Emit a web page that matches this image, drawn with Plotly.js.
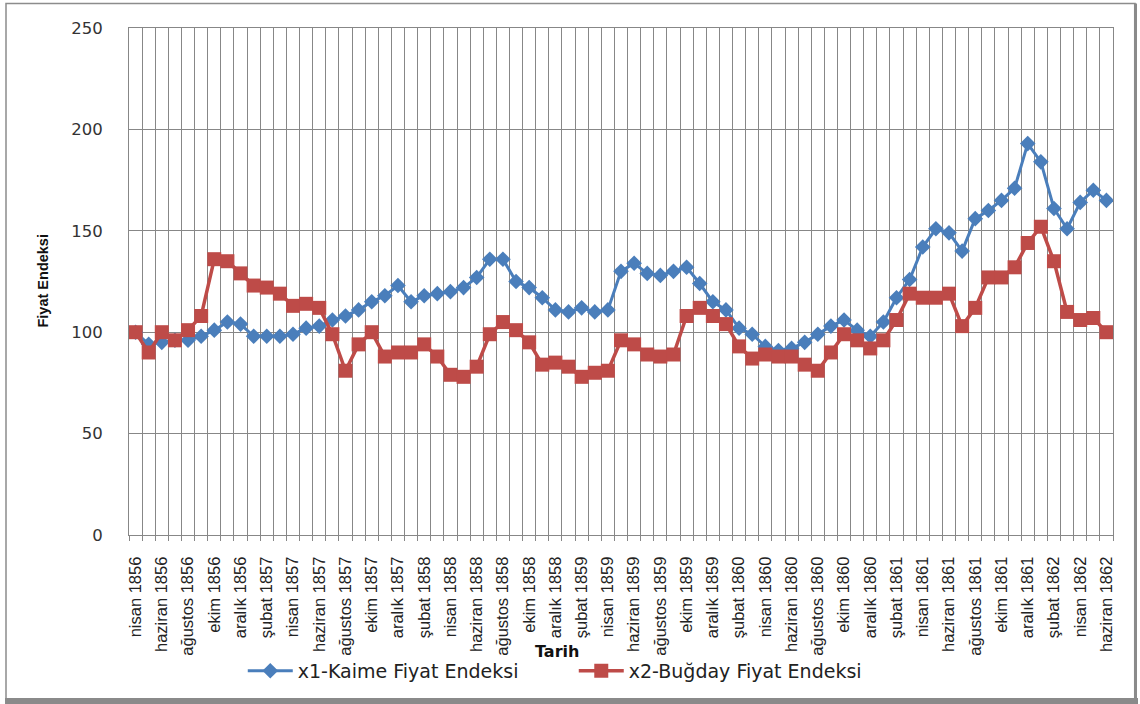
<!DOCTYPE html>
<html>
<head>
<meta charset="utf-8">
<script src="https://cdn.plot.ly/plotly-3.0.1.min.js"></script>
<style>
  html, body { margin: 0; padding: 0; background: #ffffff; }
  #chart { width: 1140px; height: 704px; }
</style>
</head>
<body>
<div id="chart"></div>
<script>
// Months (categories), April 1856 – June 1862
const categories = [
  "nisan 1856","mayıs 1856","haziran 1856","temmuz 1856","ağustos 1856","eylül 1856","ekim 1856","kasım 1856","aralık 1856",
  "ocak 1857","şubat 1857","mart 1857","nisan 1857","mayıs 1857","haziran 1857","temmuz 1857","ağustos 1857","eylül 1857","ekim 1857","kasım 1857","aralık 1857",
  "ocak 1858","şubat 1858","mart 1858","nisan 1858","mayıs 1858","haziran 1858","temmuz 1858","ağustos 1858","eylül 1858","ekim 1858","kasım 1858","aralık 1858",
  "ocak 1859","şubat 1859","mart 1859","nisan 1859","mayıs 1859","haziran 1859","temmuz 1859","ağustos 1859","eylül 1859","ekim 1859","kasım 1859","aralık 1859",
  "ocak 1860","şubat 1860","mart 1860","nisan 1860","mayıs 1860","haziran 1860","temmuz 1860","ağustos 1860","eylül 1860","ekim 1860","kasım 1860","aralık 1860",
  "ocak 1861","şubat 1861","mart 1861","nisan 1861","mayıs 1861","haziran 1861","temmuz 1861","ağustos 1861","eylül 1861","ekim 1861","kasım 1861","aralık 1861",
  "ocak 1862","şubat 1862","mart 1862","nisan 1862","mayıs 1862","haziran 1862"
];

// x1 - Kaime price index
const kaime = [
  100, 94, 95, 96, 96, 98, 101, 105, 104,
  98, 98, 98, 99, 102, 103, 106, 108, 111, 115, 118, 123,
  115, 118, 119, 120, 122, 127, 136, 136, 125, 122, 117, 111,
  110, 112, 110, 111, 130, 134, 129, 128, 130, 132, 124, 115,
  111, 102, 99, 93, 91, 92, 95, 99, 103, 106, 101, 98,
  105, 117, 126, 142, 151, 149, 140, 156, 160, 165, 171, 193,
  184, 161, 151, 164, 170, 165
];

// x2 - Wheat price index
const bugday = [
  100, 90, 100, 96, 101, 108, 136, 135, 129,
  123, 122, 119, 113, 114, 112, 99, 81, 94, 100, 88, 90,
  90, 94, 88, 79, 78, 83, 99, 105, 101, 95, 84, 85,
  83, 78, 80, 81, 96, 94, 89, 88, 89, 108, 112, 108,
  104, 93, 87, 89, 88, 88, 84, 81, 90, 99, 96, 92,
  96, 106, 119, 117, 117, 119, 103, 112, 127, 127, 132, 144,
  152, 135, 110, 106, 107, 100
];

const seriesNames = ["x1-Kaime Fiyat Endeksi", "x2-Buğday Fiyat Endeksi"];
const yTicks = [0, 50, 100, 150, 200, 250];

const xIdx = categories.map((_, i) => i);
const tickIdx = xIdx.filter(i => i % 2 === 0);
const tickTxt = tickIdx.map(i => categories[i]);

const traces = [
  {
    x: xIdx, y: kaime, name: seriesNames[0], type: 'scatter', mode: 'lines+markers',
    line: { color: '#4a7ebb', width: 3 },
    marker: { symbol: 'diamond', size: 12, color: '#4a7ebb' }
  },
  {
    x: xIdx, y: bugday, name: seriesNames[1], type: 'scatter', mode: 'lines+markers',
    line: { color: '#be4b48', width: 3.5 },
    marker: { symbol: 'square', size: 14, color: '#be4b48' }
  }
];

const gridCol = '#878787';
const layout = {
  width: 1140, height: 704,
  margin: { l: 129, r: 27, t: 28, b: 169 },
  paper_bgcolor: '#ffffff', plot_bgcolor: '#ffffff',
  showlegend: true,
  xaxis: {
    type: 'linear', range: [-0.5, categories.length - 0.5],
    tickmode: 'array', tickvals: tickIdx, ticktext: tickTxt,
    tickangle: -90, ticks: 'outside', ticklen: 14, tickcolor: 'rgba(0,0,0,0)',
    showgrid: false, zeroline: false,
    showline: true, linecolor: gridCol, linewidth: 1, mirror: true,
    tickfont: { family: 'Liberation Sans, Arial, sans-serif', size: 16.5, color: '#222' },
    minor: { tick0: -0.5, dtick: 1, showgrid: true, gridcolor: gridCol, gridwidth: 1, ticks: 'outside', ticklen: 5, tickcolor: gridCol },
    fixedrange: true
  },
  yaxis: {
    range: [0, 250], tickmode: 'array', tickvals: yTicks,
    showgrid: true, gridcolor: gridCol, gridwidth: 1, zeroline: false,
    showline: true, linecolor: gridCol, linewidth: 1, mirror: true,
    ticks: 'outside', ticklen: 22, tickcolor: 'rgba(0,0,0,0)',
    tickfont: { family: 'DejaVu Sans, sans-serif', size: 16.5, color: '#333' },
    fixedrange: true
  },
  legend: {
    orientation: 'h', x: 0.452, xanchor: 'center', y: -0.268, yanchor: 'middle',
    font: { family: 'DejaVu Sans, sans-serif', size: 19, color: '#222' },
    itemwidth: 45, entrywidth: 271, bgcolor: 'rgba(0,0,0,0)'
  },
  annotations: [
    { text: '<b>Tarih</b>', xref: 'paper', yref: 'paper', x: 0.435, y: -0.229,
      xanchor: 'center', yanchor: 'middle', showarrow: false,
      font: { family: 'DejaVu Sans, sans-serif', size: 16, color: '#111' } },
    { text: '<b>Fiyat Endeksi</b>', xref: 'paper', yref: 'paper', x: -0.0884, y: 0.5,
      xanchor: 'center', yanchor: 'middle', textangle: -90, showarrow: false,
      font: { family: 'Liberation Sans, Arial, sans-serif', size: 14.5, color: '#111' } }
  ],
  shapes: [
    { type: 'rect', xref: 'paper', yref: 'paper', x0: -0.125, x1: 1.0224, y0: -0.3254, y1: 1.0483,
      line: { color: '#8c8c8c', width: 1.5 }, layer: 'below' },
    { type: 'rect', xref: 'paper', yref: 'paper', x0: -0.126, x1: 1.0254, y0: -0.3333, y1: -0.3215,
      line: { width: 0 }, fillcolor: '#8a8a8a', layer: 'above' },
    { type: 'rect', xref: 'paper', yref: 'paper', x0: 1.0213, x1: 1.0244, y0: -0.3333, y1: 1.0483,
      line: { width: 0 }, fillcolor: '#8a8a8a', layer: 'above' }
  ]
};

Plotly.newPlot('chart', traces, layout, { displayModeBar: false, staticPlot: true });
</script>
</body>
</html>
